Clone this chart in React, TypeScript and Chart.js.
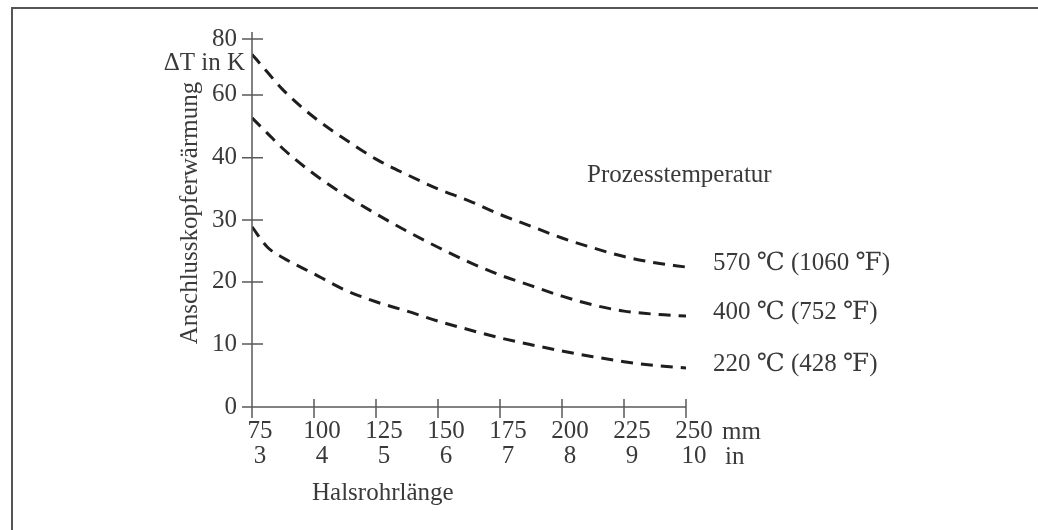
import React, { useEffect, useRef } from 'react';
import { Chart, LinearScale, registerables } from 'chart.js';

// ---- data ----
const lengthsMm = [75, 81.25, 87.5, 100, 112.5, 125, 137.5, 150, 162.5, 175, 187.5, 200, 212.5, 225, 237.5, 250];
const rise570 = [74.5, 68.1, 61.8, 52.9, 45.9, 39.8, 37.3, 35.0, 33.1, 30.9, 29.0, 27.1, 25.5, 24.1, 23.1, 22.4];
const rise400 = [52.7, 47.8, 42.9, 37.4, 34.0, 31.0, 28.2, 25.6, 23.2, 21.1, 19.4, 17.7, 16.3, 15.3, 14.8, 14.5];
const rise220 = [28.9, 25.6, 23.9, 21.3, 18.7, 16.8, 15.3, 13.7, 12.3, 11.0, 9.9, 8.9, 8.0, 7.2, 6.6, 6.2];
const seriesLabels = ['570 \u2103 (1060 \u2109)', '400 \u2103 (752 \u2109)', '220 \u2103 (428 \u2109)'];

const xTicksMm = [75, 100, 125, 150, 175, 200, 225, 250];
const xTicksIn = ['3', '4', '5', '6', '7', '8', '9', '10'];
const yTicks = [0, 10, 20, 30, 40, 60, 80];

// axis scale layout (the original axis is not evenly divided above 40)
const yBreakFractions = [0, 0.171, 0.34, 0.508, 0.677, 0.848, 1];

function valueToFraction(v: number) {
  for (let i = 0; i < yTicks.length - 1; i++) {
    const a = yTicks[i], b = yTicks[i + 1];
    if (v <= b || i === yTicks.length - 2) {
      const t = (v - a) / (b - a);
      return yBreakFractions[i] + t * (yBreakFractions[i + 1] - yBreakFractions[i]);
    }
  }
  return 0;
}
function fractionToValue(f: number) {
  for (let i = 0; i < yBreakFractions.length - 1; i++) {
    const a = yBreakFractions[i], b = yBreakFractions[i + 1];
    if (f <= b || i === yBreakFractions.length - 2) {
      const t = (f - a) / (b - a);
      return yTicks[i] + t * (yTicks[i + 1] - yTicks[i]);
    }
  }
  return 0;
}

class BrokenScale extends (LinearScale as any) {
  static id = 'broken';
  getPixelForValue(value: number) {
    if (value === null || value === undefined || isNaN(value)) return NaN;
    return (this as any).getPixelForDecimal(valueToFraction(value));
  }
  getValueForPixel(pixel: number) {
    return fractionToValue((this as any).getDecimalForPixel(pixel));
  }
}

Chart.register(...registerables, BrokenScale as any);

const FONT = "'Liberation Serif', 'DejaVu Serif', serif";
const TEXT = '#3a3a3a';
const AXIS = '#5a5a5a';
const LINE = '#1e1e1e';

const decor = {
  id: 'decor',
  afterDraw(chart: any) {
    const { ctx } = chart;
    const xs = chart.scales.x;
    const ys = chart.scales.y;
    ctx.save();
    // frame (top and left edges)
    ctx.strokeStyle = '#555';
    ctx.lineWidth = 2;
    ctx.beginPath();
    ctx.moveTo(12, 530);
    ctx.lineTo(12, 8);
    ctx.lineTo(1038, 8);
    ctx.stroke();

    const x0 = xs.getPixelForValue(xTicksMm[0]);
    const x1 = xs.getPixelForValue(xTicksMm[xTicksMm.length - 1]);
    const y0 = ys.getPixelForValue(0);
    const yTop = ys.getPixelForValue(80);
    ctx.strokeStyle = AXIS;
    ctx.lineWidth = 1.5;
    ctx.beginPath();
    ctx.moveTo(x0, yTop - 7);
    ctx.lineTo(x0, y0 + 11);
    ctx.moveTo(x0 - 10, y0);
    ctx.lineTo(x1, y0);
    for (const v of yTicks) {
      const py = ys.getPixelForValue(v);
      ctx.moveTo(x0 - 10, py);
      ctx.lineTo(x0 + 11, py);
    }
    for (const v of xTicksMm) {
      const px = xs.getPixelForValue(v);
      ctx.moveTo(px, y0 - 8);
      ctx.lineTo(px, y0 + 11);
    }
    ctx.stroke();

    // texts
    ctx.fillStyle = TEXT;
    ctx.font = `25px ${FONT}`;
    ctx.textBaseline = 'middle';
    ctx.textAlign = 'right';
    ctx.fillText('\u0394T in K', x0 - 7, yTop + 24);
    ctx.textAlign = 'left';
    ctx.fillText('mm', x1 + 36, y0 + 25);
    ctx.fillText('in', x1 + 39, y0 + 50);
    ctx.fillText('Halsrohrlänge', 312, y0 + 86);
    ctx.fillText('Prozesstemperatur', 587, 175);
    const ends = [rise570, rise400, rise220];
    ends.forEach((arr, i) => {
      const py = ys.getPixelForValue(arr[arr.length - 1]);
      ctx.fillText(seriesLabels[i], x1 + 27, py - 4);
    });
    // rotated y title
    ctx.save();
    ctx.translate(190, 213);
    ctx.rotate(-Math.PI / 2);
    ctx.textAlign = 'center';
    ctx.fillText('Anschlusskopferwärmung', 0, 0);
    ctx.restore();
    ctx.restore();
  },
};

export default function App() {
  const ref = useRef<HTMLCanvasElement | null>(null);
  useEffect(() => {
    if (!ref.current) return;
    const mk = (vals: number[]) => ({
      data: lengthsMm.map((x, i) => ({ x, y: vals[i] })),
      borderColor: LINE,
      borderWidth: 3,
      borderDash: [12, 8],
      pointRadius: 0,
      fill: false,
      cubicInterpolationMode: 'monotone' as const,
    });
    const chart = new Chart(ref.current, {
      type: 'line',
      data: {
        datasets: [
          { label: seriesLabels[0], ...mk(rise570) },
          { label: seriesLabels[1], ...mk(rise400) },
          { label: seriesLabels[2], ...mk(rise220) },
        ],
      },
      options: {
        responsive: false,
        animation: false,
        layout: { padding: { left: 0, top: 39, right: 352, bottom: 0 } },
        plugins: { legend: { display: false }, tooltip: { enabled: false } },
        scales: {
          x: {
            type: 'linear',
            min: 75,
            max: 250,
            afterBuildTicks: (s: any) => {
              s.ticks = xTicksMm.map((v) => ({ value: v }));
            },
            afterFit: (s: any) => {
              s.height = 123;
            },
            grid: { display: false, drawTicks: false },
            border: { display: false },
            ticks: {
              autoSkip: false,
              maxRotation: 0,
              padding: 12,
              labelOffset: 8,
              color: TEXT,
              font: { family: FONT, size: 25, lineHeight: 1.0 },
              callback: (_v: any, i: number) => [String(xTicksMm[i]), xTicksIn[i]],
            },
          },
          y: {
            type: 'broken' as any,
            min: 0,
            max: 80,
            afterBuildTicks: (s: any) => {
              s.ticks = yTicks.map((v) => ({ value: v }));
            },
            afterFit: (s: any) => {
              s.width = 252;
            },
            grid: { display: false, drawTicks: false },
            border: { display: false },
            ticks: {
              autoSkip: false,
              padding: 15,
              color: TEXT,
              font: { family: FONT, size: 25, lineHeight: 1.0 },
              callback: (v: any) => String(v),
            },
          },
        },
      },
      plugins: [decor],
    });
    return () => chart.destroy();
  }, []);
  return (
    <div style={{ position: 'fixed', left: 0, top: 0, width: 1038, height: 530, background: '#fff' }}>
      <canvas ref={ref} width={1038} height={530} />
    </div>
  );
}
